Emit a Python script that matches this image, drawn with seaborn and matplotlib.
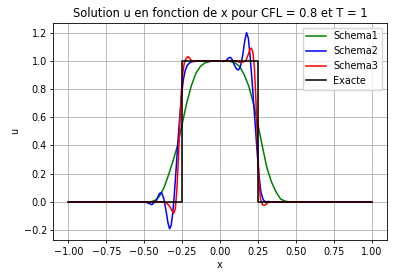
import matplotlib
matplotlib.use("Agg")
import matplotlib.pyplot as plt
import seaborn as sns
import pandas as pd

# Schema1 (green, diffusive)
x1 = [-1.0, -0.46, -0.43, -0.40, -0.37, -0.34, -0.31, -0.28, -0.25, -0.22, -0.19, -0.16, -0.13,
      -0.10, -0.06, 0.0, 0.06, 0.10, 0.13, 0.16, 0.19, 0.22, 0.25, 0.28, 0.31, 0.34, 0.37, 0.40,
      0.43, 0.46, 1.0]
y1 = [0.0, 0.0, 0.01, 0.04, 0.10, 0.19, 0.29, 0.40, 0.55, 0.70, 0.82, 0.91, 0.96,
      0.985, 0.997, 1.0, 0.997, 0.985, 0.96, 0.90, 0.82, 0.70, 0.55, 0.39, 0.24, 0.14, 0.07, 0.02,
      0.005, 0.0, 0.0]

# Schema2 (blue, oscillating)
x2 = [-1.0, -0.51, -0.48, -0.45, -0.42, -0.40, -0.385, -0.37, -0.355, -0.343, -0.333, -0.323,
      -0.313, -0.303, -0.293, -0.283, -0.273, -0.263, -0.253, -0.243, -0.23, -0.215, -0.195,
      -0.17, -0.14, 0.0, 0.02, 0.04, 0.055, 0.068, 0.08, 0.095, 0.11, 0.122, 0.135, 0.15, 0.163,
      0.175, 0.187, 0.198, 0.21, 0.222, 0.234, 0.246, 0.258, 0.27, 0.285, 0.30, 0.32, 0.34, 1.0]
y2 = [0.0, 0.0, -0.005, -0.02, 0.01, 0.06, 0.065, 0.02, -0.07, -0.15, -0.19, -0.17,
      -0.09, 0.03, 0.18, 0.34, 0.50, 0.64, 0.76, 0.86, 0.93, 0.97, 0.99,
      0.997, 1.0, 1.0, 0.995, 1.0, 1.02, 1.025, 1.01, 0.97, 0.94, 0.935, 0.96, 1.04, 1.14,
      1.2, 1.16, 1.04, 0.88, 0.70, 0.52, 0.34, 0.18, 0.07, 0.015, 0.0, 0.003, 0.0, 0.0]

# Schema3 (red)
x3 = [-1.0, -0.38, -0.35, -0.33, -0.315, -0.305, -0.295, -0.285, -0.275, -0.265, -0.255, -0.245,
      -0.235, -0.222, -0.21, -0.198, -0.185, -0.17, -0.15, 0.10, 0.13, 0.15, 0.17, 0.185, 0.197,
      0.207, 0.217, 0.227, 0.237, 0.247, 0.257, 0.267, 0.28, 0.292, 0.305, 0.32, 0.34, 1.0]
y3 = [0.0, 0.0, -0.01, -0.035, -0.065, -0.08, -0.05, 0.08, 0.30, 0.55, 0.78, 0.92,
      0.99, 1.02, 1.03, 1.015, 0.997, 0.995, 1.0, 1.0, 0.99, 0.99, 1.0, 1.04, 1.08,
      1.09, 1.06, 0.95, 0.72, 0.42, 0.15, 0.02, -0.02, -0.025, -0.015, -0.003, 0.0, 0.0]

# Exact solution
xe = [-1.0, -0.25, -0.25, 0.25, 0.25, 1.0]
ye = [0.0, 0.0, 1.0, 1.0, 0.0, 0.0]

series = [("Schema1", x1, y1, "green"), ("Schema2", x2, y2, "blue"),
          ("Schema3", x3, y3, "red"), ("Exacte", xe, ye, "black")]

plt.rcParams.update({"font.family": ["DejaVu Sans"]})
fig = plt.figure(figsize=(3.94, 2.78), dpi=100)
ax = fig.add_axes([0.1353, 0.1367, 0.8462, 0.7816])

for name, xs, ys, col in series:
    df = pd.DataFrame({"x": xs, "u": ys})
    sns.lineplot(data=df, x="x", y="u", color=col, label=name, estimator=None,
                 sort=False, linewidth=1.1, ax=ax)

ax.set_xlim(-1.1, 1.1)
ax.set_ylim(-0.27, 1.27)
ax.set_xticks([-1.0, -0.75, -0.5, -0.25, 0.0, 0.25, 0.5, 0.75, 1.0])
ax.set_xticklabels(["\u22121.00", "\u22120.75", "\u22120.50", "\u22120.25", "0.00", "0.25",
                    "0.50", "0.75", "1.00"])
ax.set_yticks([-0.2, 0.0, 0.2, 0.4, 0.6, 0.8, 1.0, 1.2])
ax.set_yticklabels(["\u22120.2", "0.0", "0.2", "0.4", "0.6", "0.8", "1.0", "1.2"])
ax.grid(True, color="#b0b0b0", linewidth=0.6)
ax.set_axisbelow(True)
ax.tick_params(labelsize=6.9, length=2.5, width=0.6, pad=2.2)
for s in ax.spines.values():
    s.set_linewidth(0.6)
ax.set_xlabel("x", fontsize=6.9, labelpad=2.5)
ax.set_ylabel("u", fontsize=6.9, labelpad=2.5)
ax.set_title("Solution u en fonction de x pour CFL = 0.8 et T = 1", fontsize=8.3, pad=4)
ax.legend(loc="upper right", fontsize=6.9, handlelength=2.0, borderpad=0.4,
          labelspacing=0.5, handletextpad=0.8, framealpha=0.8, edgecolor="#cccccc")

fig.savefig("out.png", dpi=100)
